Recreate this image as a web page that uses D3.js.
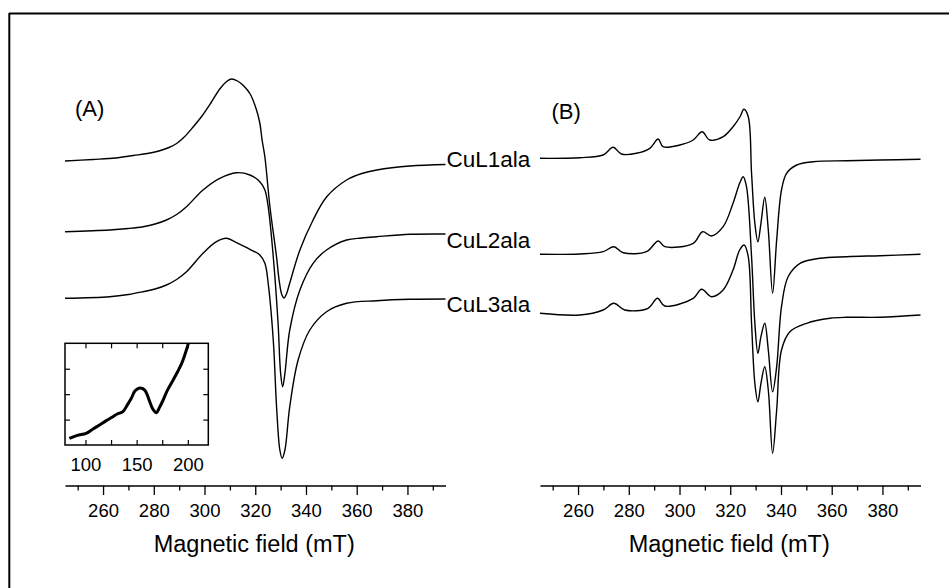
<!DOCTYPE html>
<html><head><meta charset="utf-8">
<script src="https://cdn.jsdelivr.net/npm/d3@7"></script>
<style>
html,body{margin:0;padding:0;background:#fff;}
text{font-family:"Liberation Sans",Arial,sans-serif;fill:#000;}
</style></head>
<body>
<svg id="chart" width="949" height="588"></svg>
<script>
// ---- data (field in mT, signal in arbitrary units) ----
const fieldDomain = [245, 395];
const majorTicks = [260, 280, 300, 320, 340, 360, 380];
const minorTicks = [250, 270, 290, 310, 330, 350, 370, 390];
const seriesNames = ["CuL1ala", "CuL2ala", "CuL3ala"];
const panelLabels = ["(A)", "(B)"];
const axisTitle = "Magnetic field (mT)";

const cul1A = [[245,324],[256,325.5],[265,327],[272,329.5],[277.5,331.5],[282,334],[286,337.5],[289,341.5],[292,348],[295.5,358],[299,369],[302.5,382],[306,396],[308.5,403],[310.6,406],[313,404],[315.5,399],[318,391],[320.5,375],[321.8,362],[322.7,345],[323.8,328],[325.8,278],[328.4,228],[329.4,205],[330.4,191],[331.3,187],[332.3,191],[333.6,202],[337.6,235],[342.8,265],[348.1,288],[356,305],[362,311.5],[367.9,315],[381,319],[395,320.5]];
const cul2A = [[245,253.3],[262.6,255],[270,256.5],[275.8,258.3],[280.5,261],[285,265],[289,270.5],[292.9,278.3],[299.4,295],[306,306.7],[312.6,312.3],[317.9,310],[321.8,303.3],[323.8,295],[325.1,278.3],[327.1,228.3],[329,161.7],[330,111.7],[330.8,98.3],[331.7,111.7],[333.6,155],[337.6,195],[342.8,221.7],[348.1,235],[356,245],[362,247],[367.9,248.3],[381,250.7],[395,251]];
const cul3A = [[245,186.7],[262.6,188.3],[270,190.5],[275.8,193.3],[280.5,196],[285,200],[289,205.5],[292.9,213.3],[299.4,231.7],[304.7,243.3],[308.7,246.7],[312.6,242.3],[317.9,235.7],[321.8,230],[323.8,221.7],[325.1,201.7],[327.1,145],[328.4,78.3],[329.7,35],[330.6,26.7],[331.7,35],[333.6,78.3],[336.9,125],[341.5,155],[348.1,173.3],[356,181.7],[367.9,184.3],[381,185.7],[395,186]];

const cul1B = [[245,326.7],[260.7,327.3],[269.9,330],[273.8,337.7],[277.1,331],[283,331.7],[288.3,336.7],[291.6,346],[293.5,338.3],[300.1,340],[305.4,345],[308.9,353.3],[311.9,345],[317.2,348.3],[321.1,358.3],[323.8,368],[325.4,375.7],[327.1,368.3],[328.4,311.7],[329.7,261.7],[330.9,243.3],[332.1,261.7],[333.6,287.7],[335,255],[336.7,191.7],[338.3,245],[340.2,295],[342.2,311.7],[346.2,320],[352.7,323.3],[365.9,324.3],[379,325],[395,325.7]];
const cul2B = [[245,230.7],[260.7,231],[269.9,233.3],[274.1,238.3],[277.8,232.3],[287,233.3],[291.6,244],[294.2,238.3],[305.4,241.7],[309.1,253.3],[312.6,249],[317.2,258.3],[321.1,281.7],[323.7,301.7],[325.1,308.3],[326.4,298.3],[328.4,228.3],[329.7,161.7],[330.9,131.7],[332.1,148.3],[333.6,161.7],[335,135],[336.7,93.3],[338.3,118.3],[340.2,178.3],[342.8,208.3],[347.5,221.7],[355.3,226.7],[365.9,228.3],[379,229.3],[395,230.7]];
const cul3B = [[245,171.7],[260.7,170],[269.9,175],[274.1,181.7],[278.4,175],[287.6,176.7],[291.3,186.7],[294.2,179],[305.4,186.7],[308.7,195.7],[312.6,188.3],[317.2,195],[321.1,215],[323.7,235],[325.5,240],[327.1,228.3],[328.4,161.7],[329.7,101.7],[330.9,83.3],[332.1,101.7],[333.6,118.3],[335,95],[336.7,31.7],[338.3,75],[340.2,135],[343.5,153.3],[350.1,161.7],[359.3,166.7],[365.9,167.7],[379,167.7],[395,170]];

// inset (A): field in mT, signal a.u.
const insetDomain = [80, 220];
const insetTicks = [100, 125, 150, 175, 200];
const insetLabels = [100, 150, 200];
const insetYTicks = [1, 2, 3];
const insetCurve = [[84.3,0.26],[92,0.38],[100.7,0.46],[107,0.62],[113.8,0.79],[120,0.95],[126.8,1.11],[131,1.22],[136.6,1.31],[140.5,1.55],[144.8,1.84],[148.5,2.13],[153,2.24],[157.9,2.16],[162.8,1.70],[166,1.40],[169.4,1.27],[172,1.45],[175.9,1.77],[180,2.15],[185.7,2.56],[190,2.88],[194,3.21],[197.5,3.6],[200.5,4.0],[203,4.5]];

// ---- drawing ----
const svg = d3.select("#chart");
const font = '"Liberation Sans", Arial, sans-serif';

// frame
svg.append("line").attr("x1",9).attr("y1",13.5).attr("x2",949).attr("y2",13.5).attr("stroke","#000").attr("stroke-width",2);
svg.append("line").attr("x1",9.3).attr("y1",13).attr("x2",9.3).attr("y2",588).attr("stroke","#000").attr("stroke-width",2);

const y = d3.scaleLinear().domain([0, 425]).range([485, 60]);
const axisY = 485.5;

function panel(xRange, series, labelPos, labelText) {
  const x = d3.scaleLinear().domain(fieldDomain).range(xRange);
  const g = svg.append("g");
  // minor ticks
  g.append("g").attr("transform",`translate(0,${axisY})`)
    .call(d3.axisBottom(x).tickValues(minorTicks).tickSize(5).tickSizeOuter(0).tickFormat(""))
    .call(a => a.select(".domain").remove())
    .call(a => a.selectAll("line").attr("stroke-width",1.3));
  // major ticks + domain
  const ax = g.append("g").attr("transform",`translate(0,${axisY})`)
    .call(d3.axisBottom(x).tickValues(majorTicks).tickSize(9.5).tickSizeOuter(0).tickPadding(9).tickFormat(d3.format("d")));
  ax.select(".domain").attr("stroke-width",1.5);
  ax.selectAll("line").attr("stroke-width",1.3);
  ax.selectAll("text").attr("font-size",18.5).attr("font-family",font).attr("fill","#000").attr("dy","0.72em");
  // title
  g.append("text").attr("x",(xRange[0]+xRange[1])/2 - 1).attr("y",552)
    .attr("text-anchor","middle").attr("font-size",23.5).text(axisTitle);
  // curves
  const line = d3.line().x(d => x(d[0])).y(d => y(d[1])).curve(d3.curveCatmullRom.alpha(0.5));
  series.forEach(s => {
    g.append("path").attr("d", line(s)).attr("fill","none").attr("stroke","#000")
      .attr("stroke-width",1.4).attr("stroke-linejoin","round");
  });
  g.append("text").attr("x",labelPos[0]).attr("y",labelPos[1]).attr("font-size",22).text(labelText);
  return x;
}

const xA = panel([65, 445.5], [cul1A, cul2A, cul3A], [75, 115.5], panelLabels[0]);
const xB = panel([540, 920.5], [cul1B, cul2B, cul3B], [551.5, 118.5], panelLabels[1]);

// series labels between the panels
const labelY = [167.3, 247.7, 312.3];
seriesNames.forEach((n, i) => {
  svg.append("text").attr("x", 446.5).attr("y", labelY[i]).attr("font-size", 22.5).text(n);
});

// inset
const ix = d3.scaleLinear().domain(insetDomain).range([65, 208.3]);
const iy = d3.scaleLinear().domain([0, 4]).range([445, 343.3]);
const ig = svg.append("g");
ig.append("clipPath").attr("id","insetClip").append("rect")
  .attr("x",65).attr("y",343.3).attr("width",143.3).attr("height",101.7);
ig.append("g").attr("transform","translate(0,445)")
  .call(d3.axisBottom(ix).tickValues(insetTicks).tickSize(-5).tickSizeOuter(0).tickPadding(13).tickFormat(d => insetLabels.includes(d) ? d : ""))
  .call(a => { a.select(".domain").remove(); a.selectAll("line").attr("stroke-width",1.2);
    a.selectAll("text").attr("font-size",18.5).attr("font-family",font).attr("fill","#000").attr("dy","0.72em"); });
ig.append("g").attr("transform","translate(0,343.3)")
  .call(d3.axisTop(ix).tickValues(insetTicks).tickSize(-5).tickSizeOuter(0).tickFormat(""))
  .call(a => { a.select(".domain").remove(); a.selectAll("line").attr("stroke-width",1.2); });
ig.append("g").attr("transform","translate(65,0)")
  .call(d3.axisLeft(iy).tickValues(insetYTicks).tickSize(-5).tickSizeOuter(0).tickFormat(""))
  .call(a => { a.select(".domain").remove(); a.selectAll("line").attr("stroke-width",1.2); });
ig.append("g").attr("transform","translate(208.3,0)")
  .call(d3.axisRight(iy).tickValues(insetYTicks).tickSize(-5).tickSizeOuter(0).tickFormat(""))
  .call(a => { a.select(".domain").remove(); a.selectAll("line").attr("stroke-width",1.2); });
ig.append("rect").attr("x",65).attr("y",343.3).attr("width",143.3).attr("height",101.7)
  .attr("fill","none").attr("stroke","#000").attr("stroke-width",1.5);
const iline = d3.line().x(d => ix(d[0])).y(d => iy(d[1])).curve(d3.curveCatmullRom.alpha(0.5));
ig.append("path").attr("d", iline(insetCurve)).attr("clip-path","url(#insetClip)")
  .attr("fill","none").attr("stroke","#000").attr("stroke-width",3).attr("stroke-linejoin","round");
</script>
</body></html>
